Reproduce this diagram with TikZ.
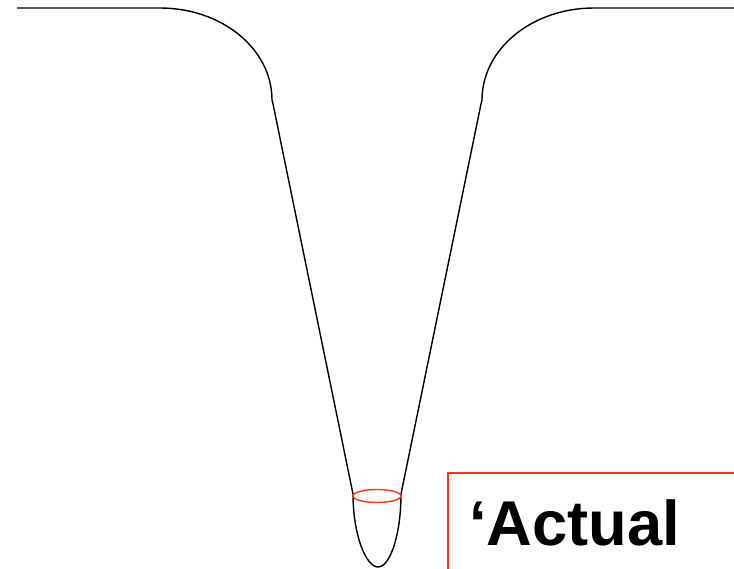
\documentclass[tikz,border=0pt]{standalone}
\usepackage{fontspec}
\usetikzlibrary{positioning}
\newfontfamily\labelfont{Liberation Sans}
\definecolor{ink}{HTML}{000000}
\definecolor{mark}{HTML}{FF3311}

\begin{document}
\begin{tikzpicture}[
  x=0.03cm, y=-0.03cm,
  wall/.style={draw=ink, line width=1.2pt},
  ring/.style={draw=mark, line width=1.2pt},
  frame/.style={draw=mark, line width=1.1pt},
  big/.style={font=\labelfont\bfseries\fontsize{54}{62}\selectfont, text=ink,
              inner sep=0pt, anchor=base west}
]
\useasboundingbox (0,0) rectangle (734,569);

% surface and tip profile
\draw[wall] (17,8) -- (160,8)
  .. controls (222,8) and (272,49) .. (272,100) -- (273,104)
  -- (353,494)
  .. controls (353,535) and (366,567) .. (378,567)
  .. controls (390,567) and (401,535) .. (401,494)
  -- (481,104) -- (482,100)
  .. controls (482,49) and (532,8) .. (594,8) -- (734,8);

% contact ring
\draw[ring] (377,496) ellipse [x radius=24, y radius=6.5];

% label box
\draw[frame] (448,569) -- (448,473) -- (734,473);
\node[big] (actual) at (469,545) {‘Actual};

\end{tikzpicture}
\end{document}
